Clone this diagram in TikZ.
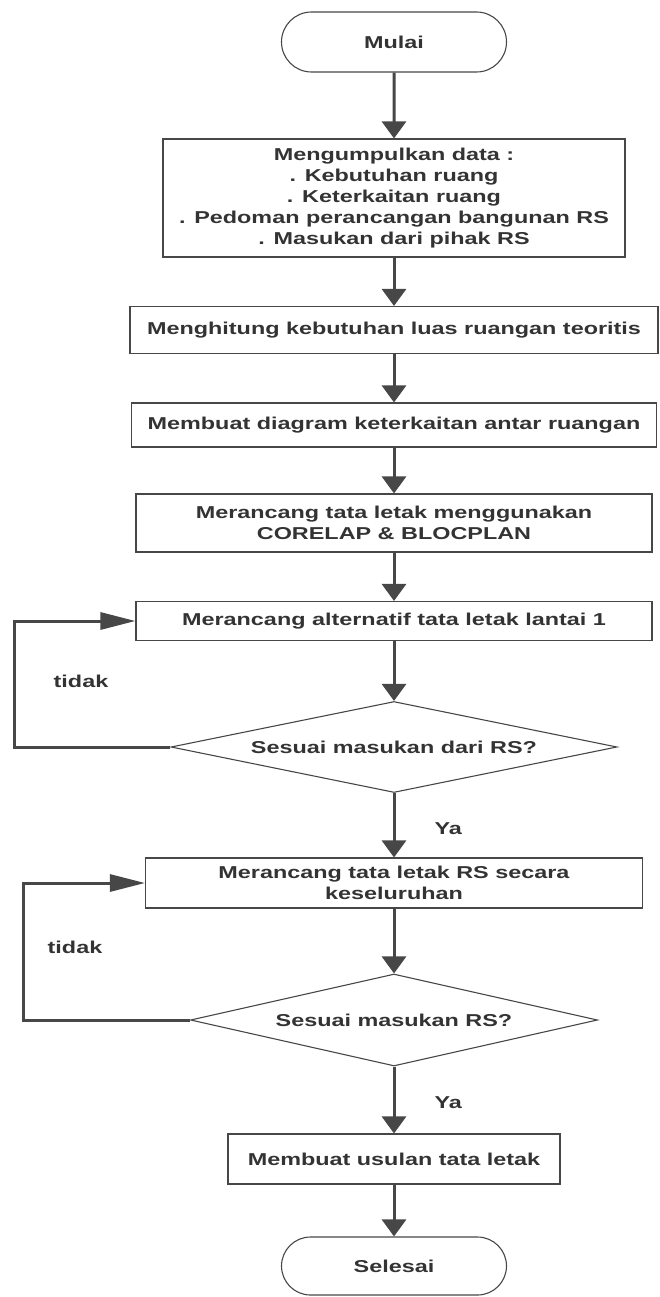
\documentclass[tikz,border=0pt]{standalone}
\usepackage{fontspec}
\setmainfont{Liberation Sans}[FakeStretch=1.36]
\usepackage{xcolor}
\usetikzlibrary{arrows.meta,shapes.geometric,shapes.misc}
\definecolor{ink}{HTML}{333333}
\definecolor{edge}{HTML}{474747}

\begin{document}
\begin{tikzpicture}[x = 1pt, y = -1pt,
    every node/.style = {font = \bfseries\fontsize{17.2}{20.8}\selectfont, text = ink},
    box/.style = {draw = edge, line width = 1.1pt, rectangle, inner sep = 0pt, align = center},
    term/.style = {draw = edge, line width = 1.1pt, rounded rectangle, inner sep = 0pt, minimum width = 225pt, minimum height = 60pt},
    ask/.style = {draw = edge, line width = 1.1pt, diamond, inner sep = 0pt, aspect = 4.8},
    flow/.style = {draw = edge, line width = 3pt, -{Triangle[width = 24pt, length = 17pt]}},
    back/.style = {draw = edge, line width = 3pt, -{Triangle[width = 17pt, length = 35pt]}}]
    \useasboundingbox (0,0) rectangle (660,1297);
    \node[term] (mulai) at (394,42) {Mulai};
    \node[box, minimum width = 462pt, minimum height = 118pt] (data) at (394,198) {Mengumpulkan data :\\. Kebutuhan ruang\\. Keterkaitan ruang\\. Pedoman perancangan bangunan RS\\. Masukan dari pihak RS};
    \node[box, minimum width = 528pt, minimum height = 47pt] (hitung) at (394,330) {Menghitung kebutuhan luas ruangan teoritis};
    \node[box, minimum width = 525pt, minimum height = 44pt] (diagram) at (394,425) {Membuat diagram keterkaitan antar ruangan};
    \node[box, minimum width = 516pt, minimum height = 58pt] (corelap) at (394,523) {Merancang tata letak menggunakan\\CORELAP \& BLOCPLAN};
    \node[box, minimum width = 516pt, minimum height = 39pt] (lantai) at (394,621) {Merancang alternatif tata letak lantai 1};
    \node[ask, minimum width = 446pt, minimum height = 91pt] (cekdari) at (394,747) {Sesuai masukan dari RS?};
    \node[box, minimum width = 497pt, minimum height = 50pt] (rancang) at (394,883) {Merancang tata letak RS secara\\keseluruhan};
    \node[ask, minimum width = 407pt, minimum height = 92pt] (cekrs) at (394,1020) {Sesuai masukan RS?};
    \node[box, minimum width = 332pt, minimum height = 50pt] (usulan) at (394,1159) {Membuat usulan tata letak};
    \node[term, minimum height = 58pt] (selesai) at (394,1266) {Selesai};
    % labels of the branches
    \node (tidaka) at (81,681) {tidak};
    \node (tidakb) at (75,947) {tidak};
    \node[anchor = west] (yaa) at (431,829) {Ya};
    \node[anchor = west] (yab) at (431,1103) {Ya};
    \coordinate (belokA) at (14,747);
    \coordinate (belokB) at (23,1020);
    \draw[flow] (mulai) -- (data);
    \draw[flow] (data) -- (hitung);
    \draw[flow] (hitung) -- (diagram);
    \draw[flow] (diagram) -- (corelap);
    \draw[flow] (corelap) -- (lantai);
    \draw[flow] (lantai) -- (cekdari);
    \draw[flow] (cekdari) -- (rancang);
    \draw[flow] (rancang) -- (cekrs);
    \draw[flow] (cekrs) -- (usulan);
    \draw[flow] (usulan) -- (selesai);
    \draw[back] (cekdari.west) -- (belokA) |- (lantai.west);
    \draw[back] (cekrs.west) -- (belokB) |- (rancang.west);
\end{tikzpicture}
\end{document}
